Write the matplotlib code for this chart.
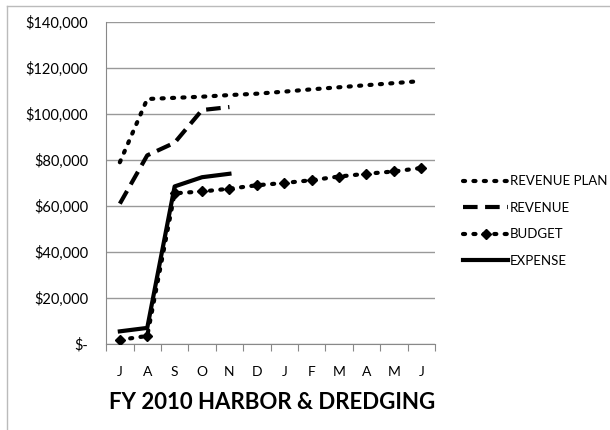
import matplotlib.pyplot as plt
from matplotlib.lines import Line2D

months = ['J', 'A', 'S', 'O', 'N', 'D', 'J', 'F', 'M', 'A', 'M', 'J']
revenue_plan = [79000, 106500, 107000, 107500, 108200, 108800, 109700, 110700, 111600, 112500, 113400, 114300]
revenue = [61000, 82000, 87500, 101700, 103000]
budget = [1800, 3500, 65500, 66300, 67500, 69000, 70000, 71200, 72800, 74000, 75000, 76500]
expense = [5500, 7000, 68500, 72500, 74000]
yticks = [0, 20000, 40000, 60000, 80000, 100000, 120000, 140000]
ytick_labels = ['$-', '$20,000', '$40,000', '$60,000', '$80,000', '$100,000', '$120,000', '$140,000']

plt.rcParams['font.family'] = ['Lato', 'DejaVu Sans']

fig = plt.figure(figsize=(6.1, 4.3), dpi=100)
ax = fig.add_axes([0.174, 0.2, 0.539, 0.749])

x = list(range(len(months)))
ax.plot(x, revenue_plan, color='black', lw=3, linestyle=(0, (0.5, 2.0)),
        dash_capstyle='round', label='REVENUE PLAN', zorder=3)
ax.plot(x[:len(revenue)], revenue, color='black', lw=3, linestyle=(0, (3.5, 1.8)),
        label='REVENUE', zorder=3)
ax.plot(x, budget, color='black', lw=3, linestyle=(0, (0.5, 2.0)),
        dash_capstyle='round', marker='D', markersize=5, label='BUDGET', zorder=3)
ax.plot(x[:len(expense)], expense, color='black', lw=3, label='EXPENSE', zorder=4)

ax.set_xlim(-0.5, len(months) - 0.5)
ax.set_ylim(0, 140000)
ax.set_yticks(yticks)
ax.set_yticklabels(ytick_labels, fontsize=10.5)
ax.tick_params(axis='y', length=0, pad=13)

ax.set_xticks([i - 0.5 for i in range(len(months) + 1)])
ax.set_xticklabels([])
ax.set_xticks(x, minor=True)
ax.set_xticklabels(months, minor=True, fontsize=10)
ax.tick_params(axis='x', which='major', length=5, color='#888888', direction='out')
ax.tick_params(axis='x', which='minor', length=0, pad=16)

ax.grid(axis='y', color='#999999', lw=1)
ax.set_axisbelow(True)
for s in ['top', 'right']:
    ax.spines[s].set_visible(False)
ax.spines['left'].set_color('#888888')
ax.spines['bottom'].set_color('#888888')

fig.legend(loc='upper left', bbox_to_anchor=(0.74, 0.62), frameon=False,
           handlelength=3.4, handletextpad=0.15, labelspacing=1.1, fontsize=9.5)

fig.text(0.446, 0.065, 'FY 2010 HARBOR & DREDGING', fontsize=16, fontweight='bold',
         ha='center', va='center')

fig.add_artist(Line2D([0.0115, 0.0115], [0, 0.986], color='#bbbbbb', lw=1, transform=fig.transFigure))
fig.add_artist(Line2D([0.0115, 1], [0.986, 0.986], color='#bbbbbb', lw=1, transform=fig.transFigure))

fig.savefig('out.png', dpi=100)
